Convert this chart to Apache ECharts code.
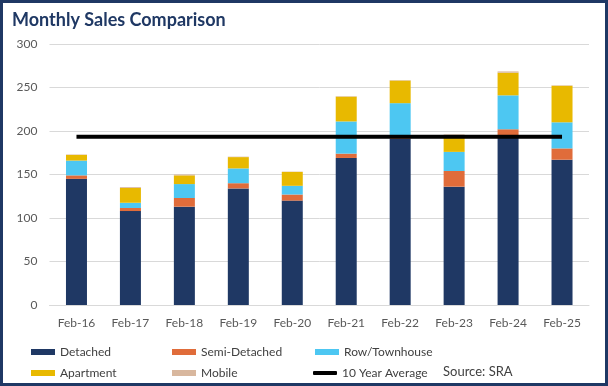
<!DOCTYPE html>
<html>
<head>
<meta charset="utf-8">
<script src="https://cdn.jsdelivr.net/npm/echarts@6/dist/echarts.min.js"></script>
<style>
html,body{margin:0;padding:0;background:#fff;}
#c{width:608px;height:386px;}
</style>
</head>
<body>
<div id="c"></div>
<script>
const categories = ['Feb-16','Feb-17','Feb-18','Feb-19','Feb-20','Feb-21','Feb-22','Feb-23','Feb-24','Feb-25'];
const detached = [145,108,113,134,120,169,191,136,192,167];
const semiDetached = [4,3.5,10,6,7,5,4,18,10,13];
const rowTownhouse = [17,6,16,17,10,37,37,22,39,30];
const apartment = [6.5,17,10,13,16,28.5,26,19,26,42];
const mobile = [0.5,1,1,0.5,0.3,0.5,0.5,1,1.5,0.5];
const tenYearAverage = [193.5,193.5,193.5,193.5,193.5,193.5,193.5,193.5,193.5,193.5];
const yTicks = [0,50,100,150,200,250,300];

const FONT = 'Lato, "Open Sans", sans-serif';
const colors = {
  detached:'#1F3864', semi:'#E06C3A', row:'#4DC7F2', apt:'#E8B900', mobile:'#D8B79E', avg:'#000000'
};
const chart = echarts.init(document.getElementById('c'), null, {renderer:'canvas'});

function bar(name, data, color){
  return {name, type:'bar', stack:'s', data, barWidth:21, itemStyle:{color}, emphasis:{disabled:true}};
}
function leg(name, left, top, opts){
  return Object.assign({
    data:[name], left, top, padding:0, itemWidth:24, itemHeight:6, icon:'rect',
    textStyle:{color:'#404040', fontSize:12, fontFamily:FONT}, selectedMode:false
  }, opts||{});
}

chart.setOption({
  animation:false,
  backgroundColor:'#fff',
  title:{text:'Monthly Sales Comparison', left:7, top:6,
    textStyle:{color:'#1F3864', fontSize:18, fontWeight:'bold', fontFamily:FONT}},
  grid:{left:49.5, right:19, top:44, bottom:81},
  legend:[
    leg('Detached', 31, 346),
    leg('Semi-Detached', 172, 346),
    leg('Row/Townhouse', 315, 346),
    leg('Apartment', 31, 367),
    leg('Mobile', 172, 367),
    leg('10 Year Average', 313, 367, {itemHeight:4, icon:'roundRect'})
  ],
  xAxis:{type:'category', data:categories,
    axisLine:{lineStyle:{color:'#D9D9D9'}}, axisTick:{show:false},
    axisLabel:{color:'#595959', fontSize:12, fontFamily:FONT, margin:12}},
  yAxis:{type:'value', min:yTicks[0], max:yTicks[yTicks.length-1], interval:50,
    axisLine:{show:false}, axisTick:{show:false},
    splitLine:{lineStyle:{color:'#D9D9D9'}},
    axisLabel:{color:'#595959', fontSize:12, fontFamily:FONT, margin:12}},
  series:[
    bar('Detached', detached, colors.detached),
    bar('Semi-Detached', semiDetached, colors.semi),
    bar('Row/Townhouse', rowTownhouse, colors.row),
    bar('Apartment', apartment, colors.apt),
    bar('Mobile', mobile, colors.mobile),
    {name:'10 Year Average', type:'line', data:tenYearAverage, symbol:'none', z:10,
     lineStyle:{color:colors.avg, width:4}, itemStyle:{color:colors.avg}, emphasis:{disabled:true}}
  ],
  graphic:[
    {type:'text', left:443, top:365, style:{text:'Source: SRA', fill:'#404040', fontSize:13, fontFamily:FONT}},
    {type:'rect', shape:{x:1.5, y:1.5, width:605, height:383}, style:{fill:null, stroke:'#1F3864', lineWidth:3}, z:100, silent:true}
  ]
});
</script>
</body>
</html>
